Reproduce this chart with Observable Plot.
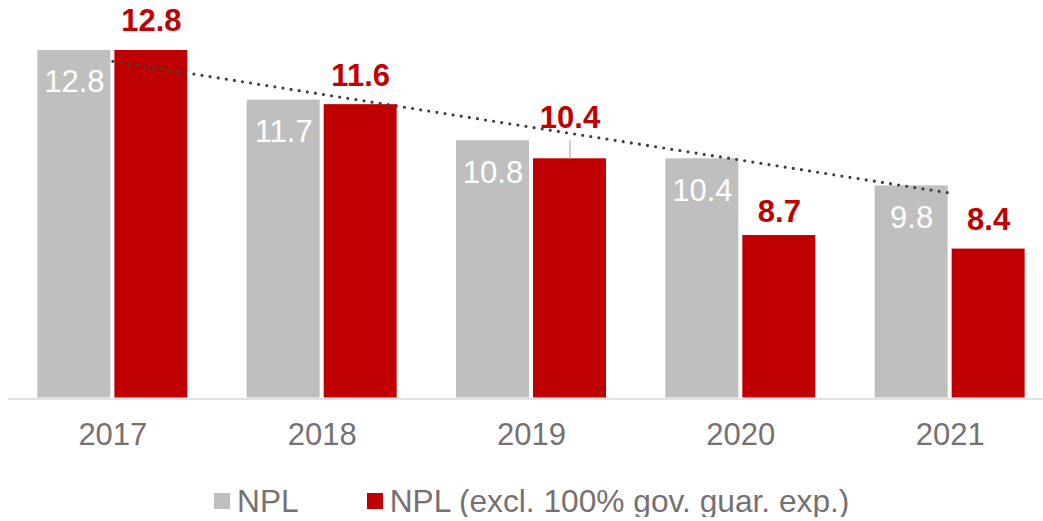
<!DOCTYPE html>
<html><head><meta charset="utf-8">
<script src="https://cdn.jsdelivr.net/npm/d3@7"></script>
<script src="https://cdn.jsdelivr.net/npm/@observablehq/plot@0.6"></script>
<style>
body{margin:0;background:#fff;font-family:"Liberation Sans",Arial,sans-serif;overflow:hidden}
#legend{display:flex;align-items:center;height:32px;margin-top:15px;padding-left:214px;color:#767171;font-size:31.7px;line-height:32px;white-space:nowrap}
.sw{display:inline-block;width:16px;height:16px;margin-right:7px}
.item{display:flex;align-items:center;margin-right:68px}
</style></head><body><div id="chart"></div><div id="legend"></div>
<script>
// ---- data ----
const years = ["2017", "2018", "2019", "2020", "2021"];
const npl = [12.8, 11.7, 10.8, 10.4, 9.8];
const nplExcl = [12.8, 11.6, 10.4, 8.7, 8.4];
const seriesNames = ["NPL", "NPL (excl. 100% gov. guar. exp.)"];
const seriesColors = ["#BFBFBF", "#C00000"];
const trendYears = ["2017", "2021"];
const trendValues = [12.56, 9.64];
const yMin = 5.1;
const yMax = 12.8;

const data = years.map((year, i) => ({year, npl: npl[i], excl: nplExcl[i]}));
const trend = trendYears.map((year, i) => ({year, value: trendValues[i]}));
const fmt = v => v.toFixed(1);
const half = 38.5;

const chart = Plot.plot({
  width: 1043, height: 470,
  marginLeft: 8, marginRight: 0, marginTop: 50, marginBottom: 72.5,
  style: {fontFamily: '"Liberation Sans", Arial, sans-serif', color: "#767171", background: "#fff"},
  x: {type: "band", domain: years, range: [7.7, 1054.3], paddingInner: 0.2834, paddingOuter: 0.1417, round: false, axis: null},
  y: {domain: [yMin, yMax], range: [397.5, 50], axis: null},
  marks: [
    Plot.ruleY([yMin], {stroke: "#d9d9d9", strokeWidth: 1.5, dy: 1}),
    Plot.barY(data, {x: "year", y1: yMin, y2: "npl", fill: seriesColors[0], insetRight: 77}),
    Plot.barY(data, {x: "year", y1: yMin, y2: "excl", fill: seriesColors[1], insetLeft: 77}),
    Plot.ruleX(data.filter(d => d.year === "2019"), {x: "year", y1: "excl", y2: "excl", dx: half, insetBottom: 18, stroke: "#bfbfbf", strokeWidth: 1.5}),
    Plot.line(trend, {x: "year", y: "value", stroke: "#404040", strokeWidth: 3.2, strokeDasharray: "0 8.2", strokeLinecap: "round"}),
    Plot.text(data, {x: "year", y: "npl", text: d => fmt(d.npl), dx: -half, dy: 32, fill: "#fff", fontSize: 31}),
    Plot.text(data.filter(d => d.year !== "2019" && d.year !== "2020"), {x: "year", y: "excl", text: d => fmt(d.excl), dx: half, dy: -29, fill: seriesColors[1], fontSize: 31, fontWeight: "bold"}),
    Plot.text(data.filter(d => d.year === "2019"), {x: "year", y: "excl", text: d => fmt(d.excl), dx: half, dy: -41, fill: seriesColors[1], fontSize: 31, fontWeight: "bold"}),
    Plot.text(data.filter(d => d.year === "2020"), {x: "year", y: "excl", text: d => fmt(d.excl), dx: half, dy: -23, fill: seriesColors[1], fontSize: 31, fontWeight: "bold"}),
    Plot.axisX({tickSize: 0, tickPadding: 25, fontSize: 31, fill: "#767171", label: null})
  ]
});
document.getElementById("chart").appendChild(chart);

const legend = document.getElementById("legend");
seriesNames.forEach((name, i) => {
  const item = document.createElement("span");
  item.className = "item";
  const sw = document.createElement("span");
  sw.className = "sw";
  sw.style.background = seriesColors[i];
  const label = document.createElement("span");
  label.textContent = name;
  item.appendChild(sw);
  item.appendChild(label);
  legend.appendChild(item);
});
</script>
</body></html>
